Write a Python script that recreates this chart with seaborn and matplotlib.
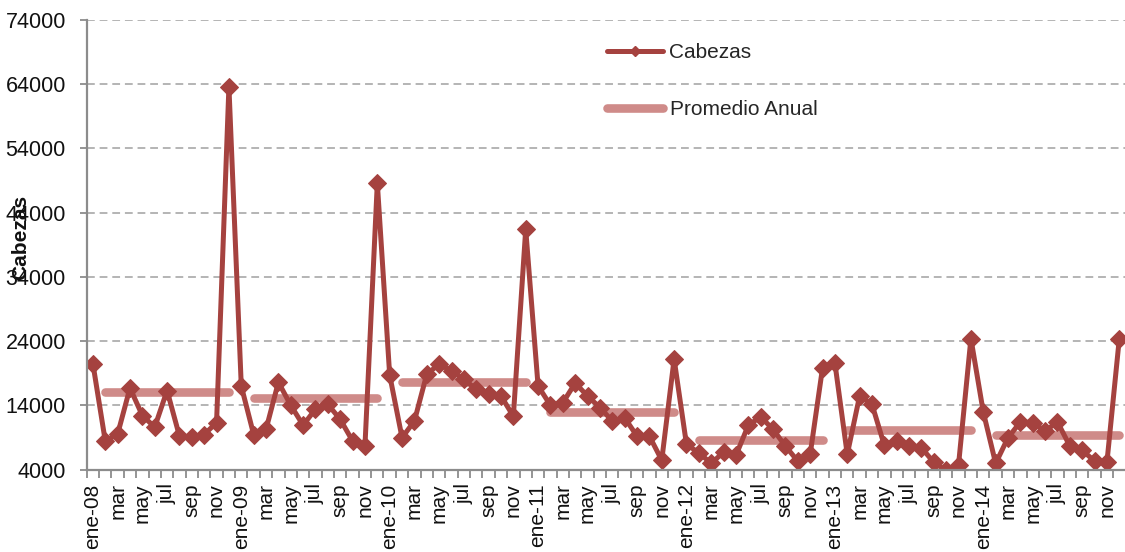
import numpy as np
import pandas as pd
import matplotlib
matplotlib.use("Agg")
import matplotlib.pyplot as plt
from matplotlib.lines import Line2D
import seaborn as sns

# ---------------- data ----------------
years = [2008, 2009, 2010, 2011, 2012, 2013, 2014]
cabezas_2008 = [20500, 8450, 9500, 16700, 12400, 10600, 16300, 9200, 9100, 9450, 11300, 63600]
cabezas_2009 = [17000, 9450, 10250, 17600, 14000, 10900, 13400, 14150, 11800, 8450, 7650, 48600]
cabezas_2010 = [18700, 8950, 11550, 18850, 20400, 19350, 18050, 16500, 15700, 15450, 12300, 41400]
cabezas_2011 = [17000, 14000, 14400, 17450, 15450, 13650, 11550, 12050, 9200, 9200, 5450, 21200]
cabezas_2012 = [7900, 6600, 4950, 6700, 6200, 10900, 12200, 10250, 7650, 5300, 6350, 19800]
cabezas_2013 = [20600, 6350, 15450, 14150, 7750, 8450, 7650, 7400, 5100, 3900, 4750, 24400]
cabezas_2014 = [12950, 4950, 8950, 11400, 11300, 10000, 11400, 7650, 7000, 5300, 5150, 24400]
promedio_anual = [16100, 15100, 17650, 12950, 8600, 10150, 9450]
meses_etiqueta = ["ene", "mar", "may", "jul", "sep", "nov"]

cabezas = (cabezas_2008 + cabezas_2009 + cabezas_2010 + cabezas_2011
           + cabezas_2012 + cabezas_2013 + cabezas_2014)
n = len(cabezas)

df = pd.DataFrame({"idx": np.arange(n), "cabezas": cabezas})

# average segments: drawn from feb to dic of each year (as in the source chart)
rows = []
for k, (yr, avg) in enumerate(zip(years, promedio_anual)):
    for m in range(1, 12):
        rows.append({"idx": k * 12 + m, "prom": avg, "year": yr})
dfa = pd.DataFrame(rows)

# tick labels
tick_pos, tick_lab = [], []
for k, yr in enumerate(years):
    for j, m in enumerate(meses_etiqueta):
        tick_pos.append(k * 12 + 2 * j)
        tick_lab.append(f"ene-{str(yr)[2:]}" if j == 0 else m)

# ---------------- style ----------------
sns.set_theme(style="white")
plt.rcParams["font.family"] = ["Liberation Sans", "DejaVu Sans"]

DARK = "#A5423F"
LIGHT = "#CF8B89"
GRID = "#B4B4B4"
AXC = "#8C8C8C"

W, H = 1125, 552
fig = plt.figure(figsize=(W / 100, H / 100), dpi=100)
ax_left, ax_right, ax_top, ax_bot = 86.7, 1125.5, 20.0, 469.5
ax = fig.add_axes([ax_left / W, 1 - ax_bot / H, (ax_right - ax_left) / W, (ax_bot - ax_top) / H])

sns.lineplot(data=dfa, x="idx", y="prom", units="year", estimator=None, ax=ax,
             color=LIGHT, linewidth=6.2, solid_capstyle="round", zorder=2)
sns.lineplot(data=df, x="idx", y="cabezas", ax=ax, color=DARK, linewidth=3.6,
             marker="D", markersize=9, markeredgecolor=DARK, markerfacecolor=DARK,
             zorder=3)

ax.set_xlim(-0.5, n - 0.5)
ax.set_ylim(4000, 74000)
ax.set_yticks(np.arange(4000, 74001, 10000))
ax.set_yticklabels([str(v) for v in range(4000, 74001, 10000)], fontsize=15.5, color="#111111")

# x: boundary tick marks (major) and labels at category centres (minor)
ax.set_xticks(np.arange(-0.5, n, 1.0))
ax.set_xticklabels([])
ax.set_xticks(tick_pos, minor=True)
ax.set_xticklabels(tick_lab, minor=True, rotation=90, fontsize=15, color="#111111")
ax.tick_params(axis="x", which="major", length=6, width=1.3, color=AXC, direction="out", bottom=True)
ax.tick_params(axis="x", which="minor", length=0, pad=10)
ax.tick_params(axis="y", length=5, width=1.3, color=AXC, direction="out", left=True, pad=10)

ax.grid(False)
ax.yaxis.grid(True, color=GRID, linestyle=(0, (4, 2.5)), linewidth=1.4)
ax.set_axisbelow(True)
for s in ["top", "right"]:
    ax.spines[s].set_visible(False)
for s in ["left", "bottom"]:
    ax.spines[s].set_color(AXC)
    ax.spines[s].set_linewidth(1.6)
    ax.spines[s].set_zorder(4)

ax.set_xlabel("")
ax.set_ylabel("Cabezas", fontsize=15, fontweight="bold", color="#111111")
ax.yaxis.set_label_coords((30 - ax_left) / (ax_right - ax_left), (ax_bot - 237) / (ax_bot - ax_top))

handles = [
    Line2D([], [], color=DARK, linewidth=3.6, marker="D", markersize=5.5),
    Line2D([], [], color=LIGHT, linewidth=6.2, solid_capstyle="round"),
]
ax.legend(handles, ["Cabezas", "Promedio Anual"], loc="upper left",
          bbox_to_anchor=(607 / W, 1 - 43 / H), bbox_transform=fig.transFigure,
          frameon=False, fontsize=15, handlelength=2.7, handletextpad=0.3,
          labelspacing=1.83, borderpad=0, borderaxespad=0)

fig.savefig("out.png", dpi=100)
